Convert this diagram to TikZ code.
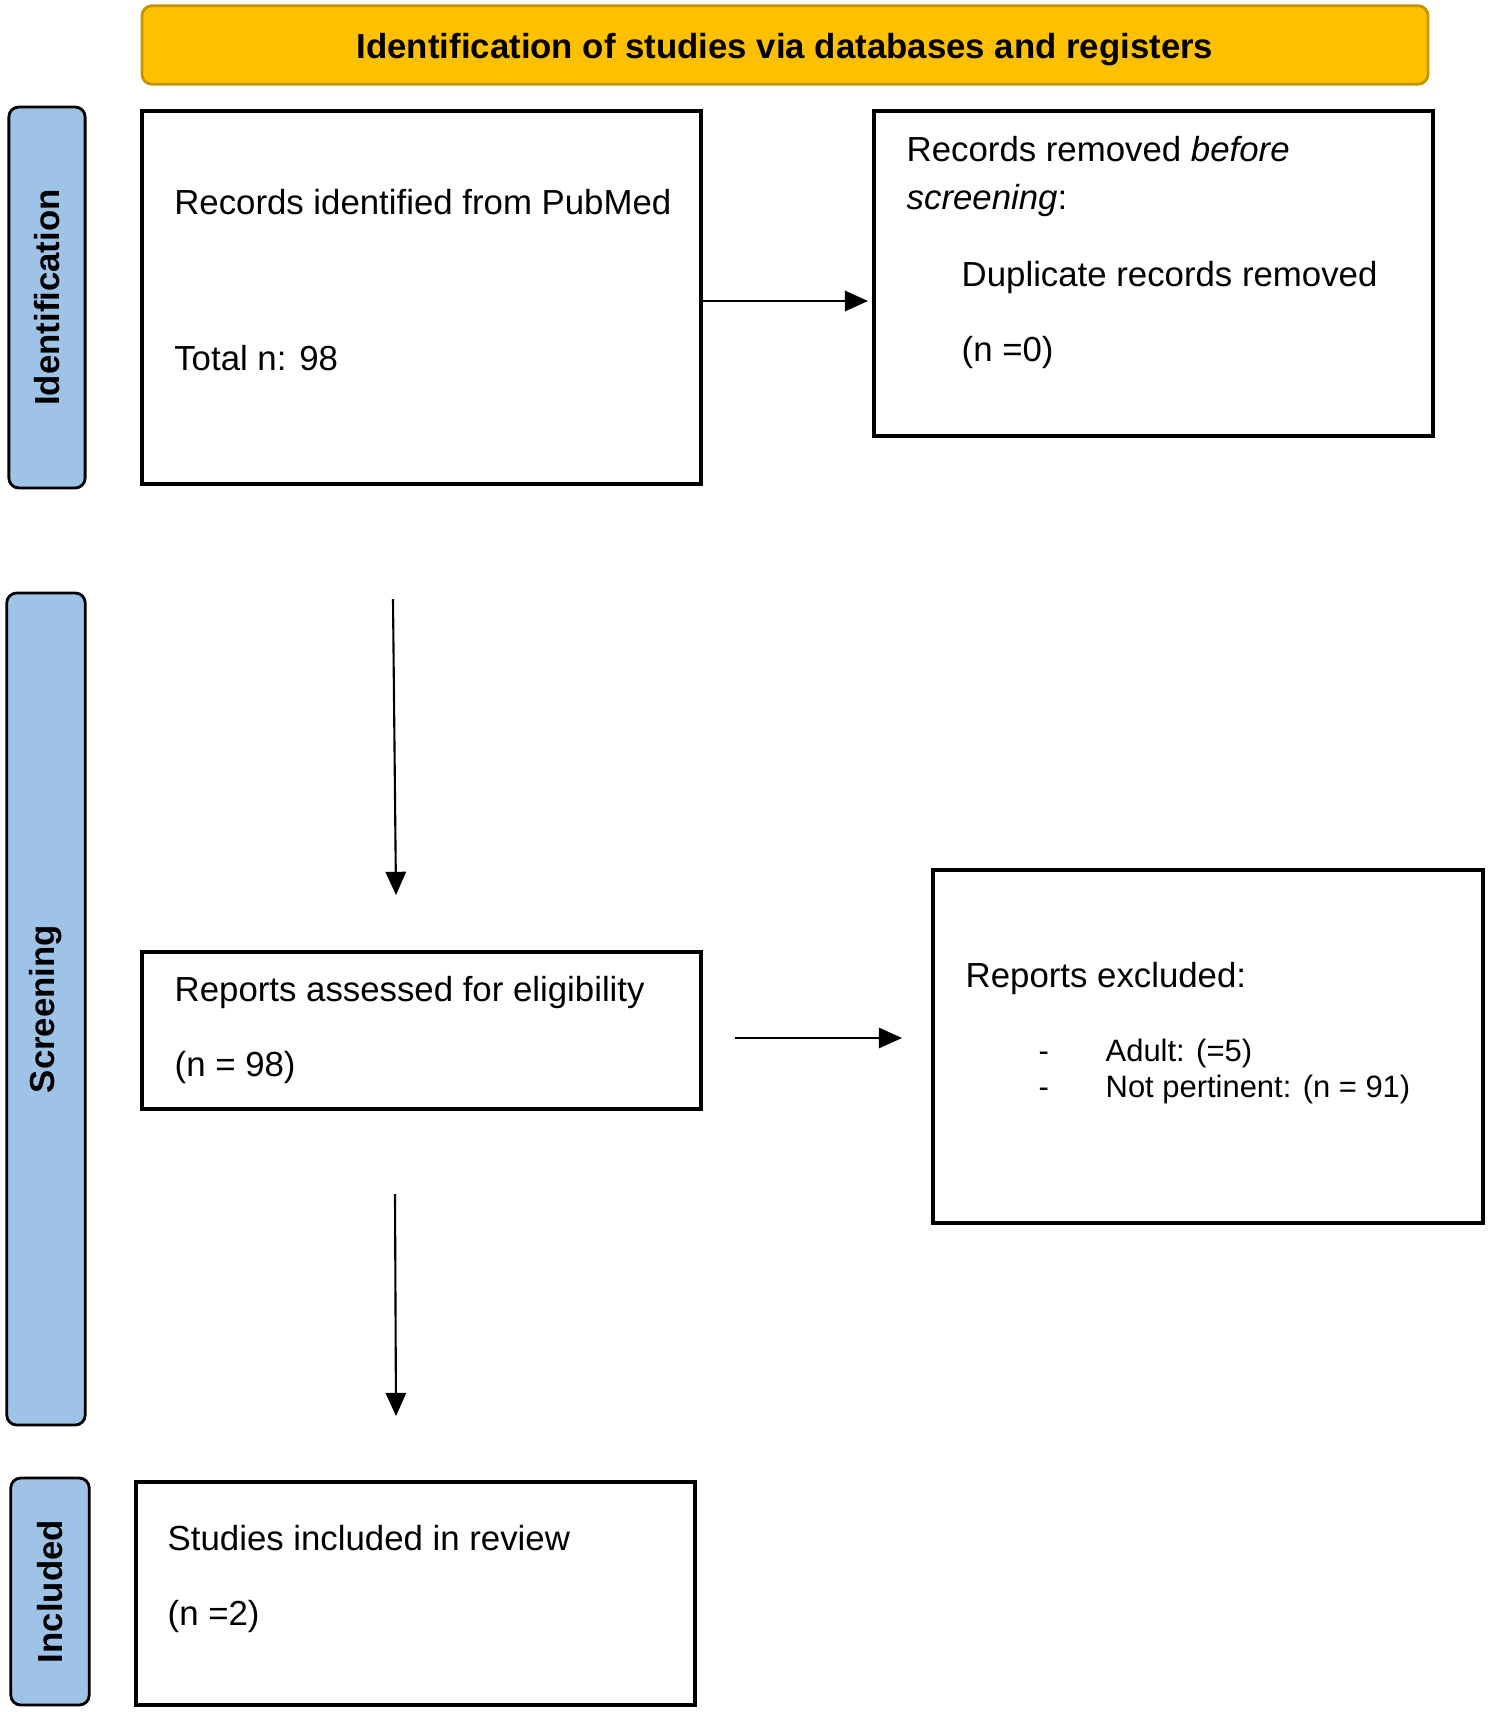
\documentclass[tikz,border=0pt]{standalone}
\usepackage{fontspec}
\setmainfont{Liberation Sans}
\usetikzlibrary{positioning,calc,arrows.meta}
\definecolor{hdrgold}{HTML}{FFC000}
\definecolor{hdredge}{HTML}{C29500}
\definecolor{phaseblue}{HTML}{9FC3E7}
\tikzset{
  >={Triangle[length=6.6pt,width=5.8pt]},
  my box/.style={
    draw,
    line width=0.9pt,
    rectangle,
    inner sep=0pt
  },
  my phase/.style={
    draw,
    line width=0.8pt,
    fill=phaseblue,
    rounded corners=1mm,
    rotate=90,
    inner sep=0pt,
    font=\fontsize{9.9}{12}\selectfont\bfseries
  },
  my header/.style={
    draw=hdredge,
    line width=0.8pt,
    fill=hdrgold,
    rounded corners=1mm,
    inner sep=0pt,
    font=\fontsize{9.9}{12}\selectfont\bfseries
  },
  my text/.style={anchor=base west,inner sep=0pt,font=\fontsize{9.9}{12}\selectfont},
  my list/.style={my text,font=\fontsize{8.8}{10}\selectfont},
  my arrow/.style={->,line width=0.6pt}
}

\begin{document}
\begin{tikzpicture}
\useasboundingbox (0,0) rectangle (14.88,-17.12);
\node (hdr) [my header,minimum width=12.86cm,minimum height=7.85mm] at (7.85,-0.45)
  {\raisebox{-3.9pt}[0pt][0pt]{Identification of studies via databases and registers}};
% phase labels
\node (idph)  [my phase,minimum width=3.81cm,minimum height=7.63mm] at (0.47,-2.975) {Identification};
\node (scrph) [my phase,minimum width=8.32cm,minimum height=7.85mm] at (0.46,-10.09) {Screening};
\node (incph) [my phase,minimum width=2.27cm,minimum height=7.85mm] at (0.50,-15.915) {Included};
% boxes
\node (recid)  [my box,minimum width=5.59cm,minimum height=3.73cm] at (4.215,-2.975)  {};
\node (recrm)  [my box,minimum width=5.59cm,minimum height=3.25cm] at (11.535,-2.735) {};
\node (repass) [my box,minimum width=5.59cm,minimum height=1.57cm] at (4.215,-10.305) {};
\node (repexc) [my box,minimum width=5.50cm,minimum height=3.53cm] at (12.08,-10.465)  {};
\node (incl)   [my box,minimum width=5.59cm,minimum height=2.23cm] at (4.155,-15.935) {};
% texts
\node (recid1) [my text] at (1.736,-2.15) {Records identified from PubMed};
\node (recid2) [my text] at (1.736,-3.70) {Total n: 98};
\node (recrm1) [my text] at (9.06,-1.62)  {Records removed \textit{before}};
\node (recrm2) [my text] at (9.06,-2.09)  {\textit{screening}:};
\node (recrm3) [my text] at (9.61,-2.86)  {Duplicate records removed};
\node (recrm4) [my text] at (9.61,-3.61)  {(n =0)};
\node (rep1)   [my text] at (1.74,-10.01) {Reports assessed for eligibility};
\node (rep2)   [my text] at (1.74,-10.76) {(n = 98)};
\node (exc1)   [my text] at (9.65,-9.87)  {Reports excluded:};
\node (dash1)  [my list] at (10.38,-10.61) {-};
\node (exc2)   [my list] at (11.05,-10.61) {Adult: (=5)};
\node (dash2)  [my list] at (10.38,-10.97) {-};
\node (exc3)   [my list] at (11.05,-10.97) {Not pertinent: (n = 91)};
\node (inc1)   [my text] at (1.67,-15.50) {Studies included in review};
\node (inc2)   [my text] at (1.67,-16.25) {(n =2)};
% arrows
\coordinate (a1e) at (8.68,-3.01);
\coordinate (a2s) at (3.93,-5.99);
\coordinate (a2e) at (3.96,-8.95);
\coordinate (a3s) at (7.35,-10.38);
\coordinate (a3e) at (9.02,-10.38);
\coordinate (a4s) at (3.95,-11.94);
\coordinate (a4e) at (3.96,-14.16);
\draw[my arrow] (recid.east |- a1e) -- (a1e);
\draw[my arrow] (a2s) -- (a2e);
\draw[my arrow] (a3s) -- (a3e);
\draw[my arrow] (a4s) -- (a4e);
\end{tikzpicture}
\end{document}
